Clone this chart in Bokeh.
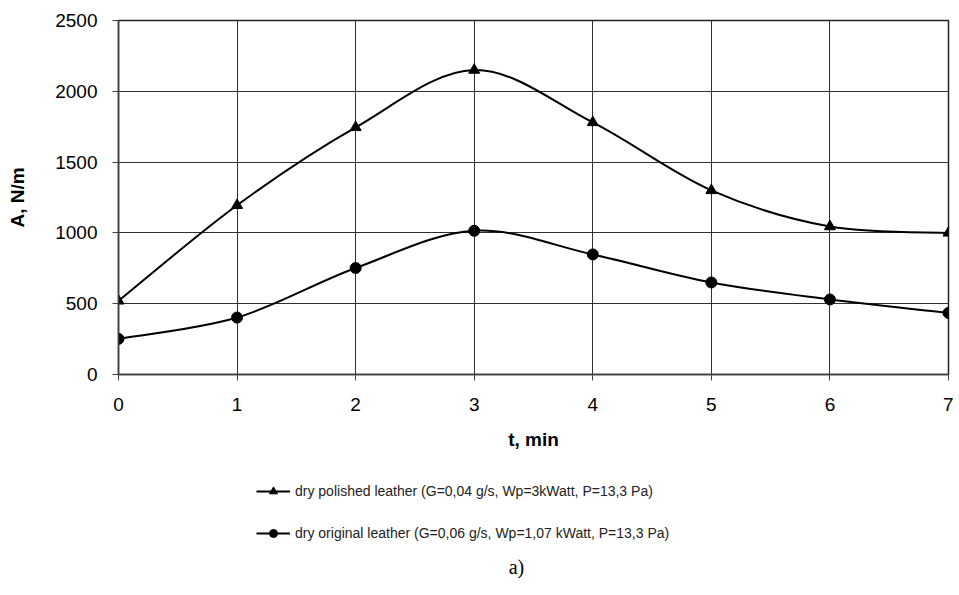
from bokeh.plotting import figure
from bokeh.layouts import column
from bokeh.models import Range1d, FixedTicker, Legend, LegendItem, Label, ColumnDataSource
from bokeh.embed import file_html
from bokeh.resources import INLINE

# ---- data ----
t = [0, 1, 2, 3, 4, 5, 6, 7]
polished = [520, 1195, 1745, 2150, 1780, 1300, 1045, 1000]
original = [252, 402, 752, 1015, 848, 650, 530, 435]
x_ticks = [0, 1, 2, 3, 4, 5, 6, 7]
y_ticks = [0, 500, 1000, 1500, 2000, 2500]
label_polished = "dry polished leather (G=0,04 g/s, Wp=3kWatt, P=13,3 Pa)"
label_original = "dry original leather (G=0,06 g/s, Wp=1,07 kWatt, P=13,3 Pa)"
caption_text = "a)"

FONT = "Liberation Sans"
W = 953


def smooth_segments(xs, ys, k=1.0 / 6.0):
    """Cubic Bezier segments through the points (Catmull-Rom style smoothing)."""
    n = len(xs)
    seg = dict(x0=[], y0=[], x1=[], y1=[], cx0=[], cy0=[], cx1=[], cy1=[])
    for i in range(n - 1):
        ip = max(i - 1, 0)
        inn = min(i + 2, n - 1)
        seg["x0"].append(xs[i]); seg["y0"].append(ys[i])
        seg["x1"].append(xs[i + 1]); seg["y1"].append(ys[i + 1])
        seg["cx0"].append(xs[i] + (xs[i + 1] - xs[ip]) * k)
        seg["cy0"].append(ys[i] + (ys[i + 1] - ys[ip]) * k)
        seg["cx1"].append(xs[i + 1] - (xs[inn] - xs[i]) * k)
        seg["cy1"].append(ys[i + 1] - (ys[inn] - ys[i]) * k)
    return ColumnDataSource(seg)


p = figure(width=W, height=456, output_backend="svg", toolbar_location=None,
           x_range=Range1d(0, 7), y_range=Range1d(0, 2500),
           min_border_left=118, min_border_right=5, min_border_top=20,
           min_border_bottom=82)

p.background_fill_color = "white"
p.border_fill_color = "white"
p.outline_line_color = "#202020"
p.outline_line_width = 1.5

# grid
p.xgrid.ticker = FixedTicker(ticks=x_ticks)
p.ygrid.ticker = FixedTicker(ticks=y_ticks)
for g in (p.xgrid, p.ygrid):
    g.grid_line_color = "#303030"
    g.grid_line_width = 1

# axes
p.xaxis.ticker = FixedTicker(ticks=x_ticks)
p.yaxis.ticker = FixedTicker(ticks=y_ticks)
for ax in (p.xaxis, p.yaxis):
    ax.axis_line_color = "#404040"
    ax.axis_line_width = 1.5
    ax.major_tick_line_color = "#404040"
    ax.major_tick_line_width = 1
    ax.major_tick_in = 0
    ax.major_tick_out = 6
    ax.minor_tick_line_color = None
    ax.major_label_text_font = FONT
    ax.major_label_text_font_size = "19px"
    ax.major_label_text_color = "black"
    ax.axis_label_text_font = FONT
    ax.axis_label_text_font_size = "19px"
    ax.axis_label_text_font_style = "bold"
    ax.axis_label_text_color = "black"

p.xaxis.axis_label = "t, min"
p.xaxis.major_label_standoff = 17
p.xaxis.axis_label_standoff = 15
p.yaxis.axis_label = "A, N/m"
p.yaxis.major_label_standoff = 15
p.yaxis.axis_label_standoff = 24

# series
seg_p = smooth_segments(t, polished)
seg_o = smooth_segments(t, original)
p.bezier(x0="x0", y0="y0", x1="x1", y1="y1", cx0="cx0", cy0="cy0", cx1="cx1", cy1="cy1",
         source=seg_p, line_color="black", line_width=2)
p.bezier(x0="x0", y0="y0", x1="x1", y1="y1", cx0="cx0", cy0="cy0", cx1="cx1", cy1="cy1",
         source=seg_o, line_color="black", line_width=2)
p.scatter(t, polished, marker="triangle", size=11, color="black")
p.scatter(t, original, marker="circle", size=11, color="black")

# ---- legend + caption area (second figure below the chart) ----
# its y range lies below the data, so the series proxies used for the legend keys stay out of view
q = figure(width=W, height=130, output_backend="svg", toolbar_location=None,
           x_range=Range1d(0, 7), y_range=Range1d(-2, -1),
           x_axis_type=None, y_axis_type=None, min_border=0)
q.outline_line_color = None
q.grid.visible = False
q.background_fill_color = "white"
q.border_fill_color = "white"

lp = q.line(t, polished, line_color="black", line_width=2)
lo = q.line(t, original, line_color="black", line_width=2)
mp = q.scatter(t, polished, marker="triangle", size=10, color="black")
mo = q.scatter(t, original, marker="circle", size=10, color="black")

legend = Legend(items=[LegendItem(label=label_polished, renderers=[lp, mp]),
                       LegendItem(label=label_original, renderers=[lo, mo])],
                location=(138, 43), orientation="vertical",
                padding=0, margin=0, spacing=22,
                glyph_width=34, glyph_height=20, label_height=20,
                label_standoff=5,
                label_text_font=FONT, label_text_font_size="14px",
                label_text_color="#222222",
                border_line_color=None, background_fill_alpha=0)
q.add_layout(legend, "center")

caption = Label(x=398, y=20, x_units="screen", y_units="screen", text=caption_text,
                text_align="center", text_baseline="middle",
                text_font="Liberation Serif", text_font_size="20px", text_color="black")
q.add_layout(caption)

open("out.html", "w").write(file_html(column(p, q, spacing=0), INLINE))
